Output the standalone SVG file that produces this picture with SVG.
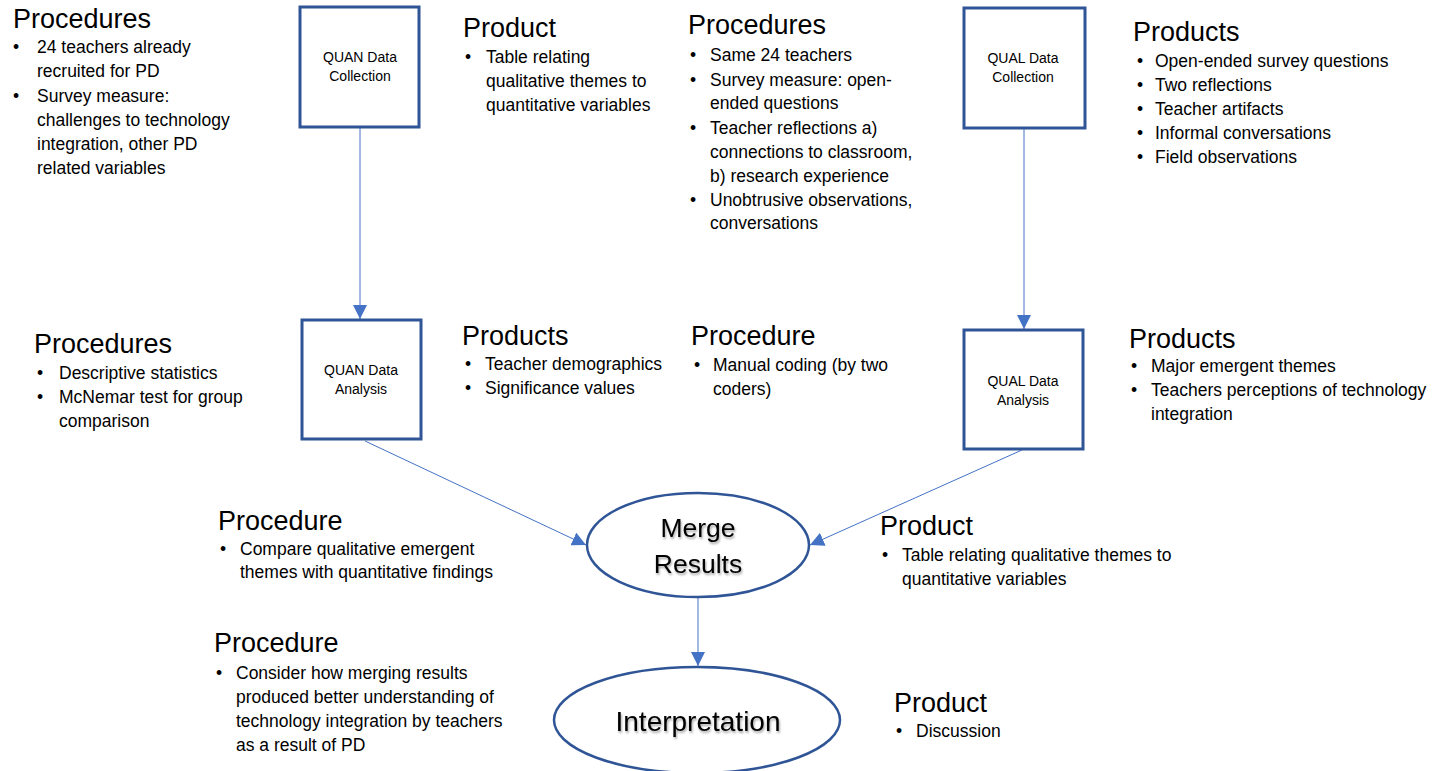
<svg xmlns="http://www.w3.org/2000/svg" width="1435" height="771" viewBox="0 0 1435 771">
<style>
  .h { font-family: "Liberation Sans", Arial, sans-serif; font-size: 27px; fill: #000; }
  .t { font-family: "Liberation Sans", Arial, sans-serif; font-size: 17.5px; fill: #000; }
  .bx { fill: #fff; stroke: #2F5597; stroke-width: 3; }
  .el { fill: #fff; stroke: #2F5597; stroke-width: 2.5; }
  .bt { font-family: "Liberation Sans", Arial, sans-serif; font-size: 14px; fill: #000; text-anchor: middle; }
  .et { font-family: "Liberation Sans", Arial, sans-serif; fill: #000; text-anchor: middle; filter: url(#sh); }
  .cn { stroke: #4472C4; stroke-width: 1; fill: none; marker-end: url(#ah); }
</style>
<defs>
  <marker id="ah" viewBox="0 0 10 10" refX="10" refY="5" markerWidth="14" markerHeight="14" markerUnits="userSpaceOnUse" orient="auto">
    <path d="M0,0 L10,5 L0,10 z" fill="#4472C4"/>
  </marker>
  <filter id="sh" x="-20%" y="-20%" width="140%" height="160%">
    <feDropShadow dx="1" dy="2" stdDeviation="1" flood-color="#000" flood-opacity="0.35"/>
  </filter>
</defs>
<rect width="1435" height="771" fill="#fff"/>

<g id="connectors">
  <line class="cn" x1="360" y1="128" x2="360" y2="319"/>
  <line class="cn" x1="1024" y1="129" x2="1024" y2="329"/>
  <line class="cn" x1="365" y1="441" x2="586" y2="545"/>
  <line class="cn" x1="1022" y1="450" x2="810" y2="545"/>
  <line class="cn" x1="698" y1="598" x2="698" y2="666"/>
</g>

<g id="quan-collection">
  <rect class="bx" x="300" y="7" width="119" height="120"/>
  <text class="bt" x="360" y="62">QUAN  Data</text>
  <text class="bt" x="360" y="81">Collection</text>
</g>
<g id="quan-analysis">
  <rect class="bx" x="302" y="320" width="119" height="119"/>
  <text class="bt" x="361" y="375">QUAN Data</text>
  <text class="bt" x="361" y="394">Analysis</text>
</g>
<g id="qual-collection">
  <rect class="bx" x="964" y="8" width="121" height="120"/>
  <text class="bt" x="1023" y="63">QUAL Data</text>
  <text class="bt" x="1023" y="82">Collection</text>
</g>
<g id="qual-analysis">
  <rect class="bx" x="964" y="330" width="119" height="119"/>
  <text class="bt" x="1023" y="386">QUAL Data</text>
  <text class="bt" x="1023" y="405">Analysis</text>
</g>
<g id="merge">
  <ellipse class="el" cx="698" cy="545" rx="111" ry="52"/>
  <text class="et" x="698" y="537" font-size="26.5">Merge</text>
  <text class="et" x="698" y="573" font-size="26.5">Results</text>
</g>
<g id="interpretation">
  <ellipse class="el" cx="697" cy="720" rx="143" ry="53"/>
  <text class="et" x="698" y="731" font-size="28">Interpretation</text>
</g>

<g id="quan-collection-procedures">
  <text class="h" x="13" y="28">Procedures</text>
  <text class="t" x="13" y="53">•</text><text class="t" x="37" y="53">24 teachers already</text>
  <text class="t" x="37" y="77">recruited for PD</text>
  <text class="t" x="13" y="102">•</text><text class="t" x="37" y="102">Survey measure:</text>
  <text class="t" x="37" y="126">challenges to technology</text>
  <text class="t" x="37" y="150">integration, other PD</text>
  <text class="t" x="37" y="174">related variables</text>
</g>
<g id="top-product">
  <text class="h" x="463" y="37">Product</text>
  <text class="t" x="465" y="63">•</text><text class="t" x="486" y="63">Table relating</text>
  <text class="t" x="486" y="87">qualitative themes to</text>
  <text class="t" x="486" y="111">quantitative variables</text>
</g>
<g id="qual-collection-procedures">
  <text class="h" x="688" y="34">Procedures</text>
  <text class="t" x="690" y="61">•</text><text class="t" x="710" y="61">Same 24 teachers</text>
  <text class="t" x="690" y="86">•</text><text class="t" x="710" y="86">Survey measure: open-</text>
  <text class="t" x="710" y="109">ended questions</text>
  <text class="t" x="690" y="134">•</text><text class="t" x="710" y="134">Teacher reflections a)</text>
  <text class="t" x="710" y="158">connections to classroom,</text>
  <text class="t" x="710" y="182">b) research experience</text>
  <text class="t" x="690" y="206">•</text><text class="t" x="710" y="206">Unobtrusive observations,</text>
  <text class="t" x="710" y="229">conversations</text>
</g>
<g id="qual-collection-products">
  <text class="h" x="1133" y="41">Products</text>
  <text class="t" x="1137" y="67">•</text><text class="t" x="1155" y="67">Open-ended survey questions</text>
  <text class="t" x="1137" y="91">•</text><text class="t" x="1155" y="91">Two reflections</text>
  <text class="t" x="1137" y="115">•</text><text class="t" x="1155" y="115">Teacher artifacts</text>
  <text class="t" x="1137" y="139">•</text><text class="t" x="1155" y="139">Informal conversations</text>
  <text class="t" x="1137" y="163">•</text><text class="t" x="1155" y="163">Field observations</text>
</g>
<g id="quan-analysis-procedures">
  <text class="h" x="34" y="353">Procedures</text>
  <text class="t" x="37" y="379">•</text><text class="t" x="59" y="379">Descriptive statistics</text>
  <text class="t" x="37" y="403">•</text><text class="t" x="59" y="403">McNemar test for group</text>
  <text class="t" x="59" y="427">comparison</text>
</g>
<g id="quan-analysis-products">
  <text class="h" x="462" y="345">Products</text>
  <text class="t" x="465" y="370">•</text><text class="t" x="485" y="370">Teacher demographics</text>
  <text class="t" x="465" y="394">•</text><text class="t" x="485" y="394">Significance values</text>
</g>
<g id="qual-analysis-procedure">
  <text class="h" x="691" y="345">Procedure</text>
  <text class="t" x="694" y="371">•</text><text class="t" x="713" y="371">Manual coding (by two</text>
  <text class="t" x="713" y="395">coders)</text>
</g>
<g id="qual-analysis-products">
  <text class="h" x="1129" y="348">Products</text>
  <text class="t" x="1131" y="372">•</text><text class="t" x="1151" y="372">Major emergent themes</text>
  <text class="t" x="1131" y="396">•</text><text class="t" x="1151" y="396">Teachers perceptions of technology</text>
  <text class="t" x="1151" y="420">integration</text>
</g>
<g id="merge-procedure">
  <text class="h" x="218" y="530">Procedure</text>
  <text class="t" x="220" y="555">•</text><text class="t" x="240" y="555">Compare qualitative emergent</text>
  <text class="t" x="240" y="578">themes with quantitative findings</text>
</g>
<g id="merge-product">
  <text class="h" x="880" y="535">Product</text>
  <text class="t" x="882" y="561">•</text><text class="t" x="902" y="561">Table relating qualitative themes to</text>
  <text class="t" x="902" y="585">quantitative variables</text>
</g>
<g id="interpretation-procedure">
  <text class="h" x="214" y="652">Procedure</text>
  <text class="t" x="216" y="679">•</text><text class="t" x="236" y="679">Consider how merging results</text>
  <text class="t" x="236" y="703">produced better understanding of</text>
  <text class="t" x="236" y="727">technology integration by teachers</text>
  <text class="t" x="236" y="751">as a result of PD</text>
</g>
<g id="interpretation-product">
  <text class="h" x="894" y="712">Product</text>
  <text class="t" x="896" y="737">•</text><text class="t" x="916" y="737">Discussion</text>
</g>
</svg>
